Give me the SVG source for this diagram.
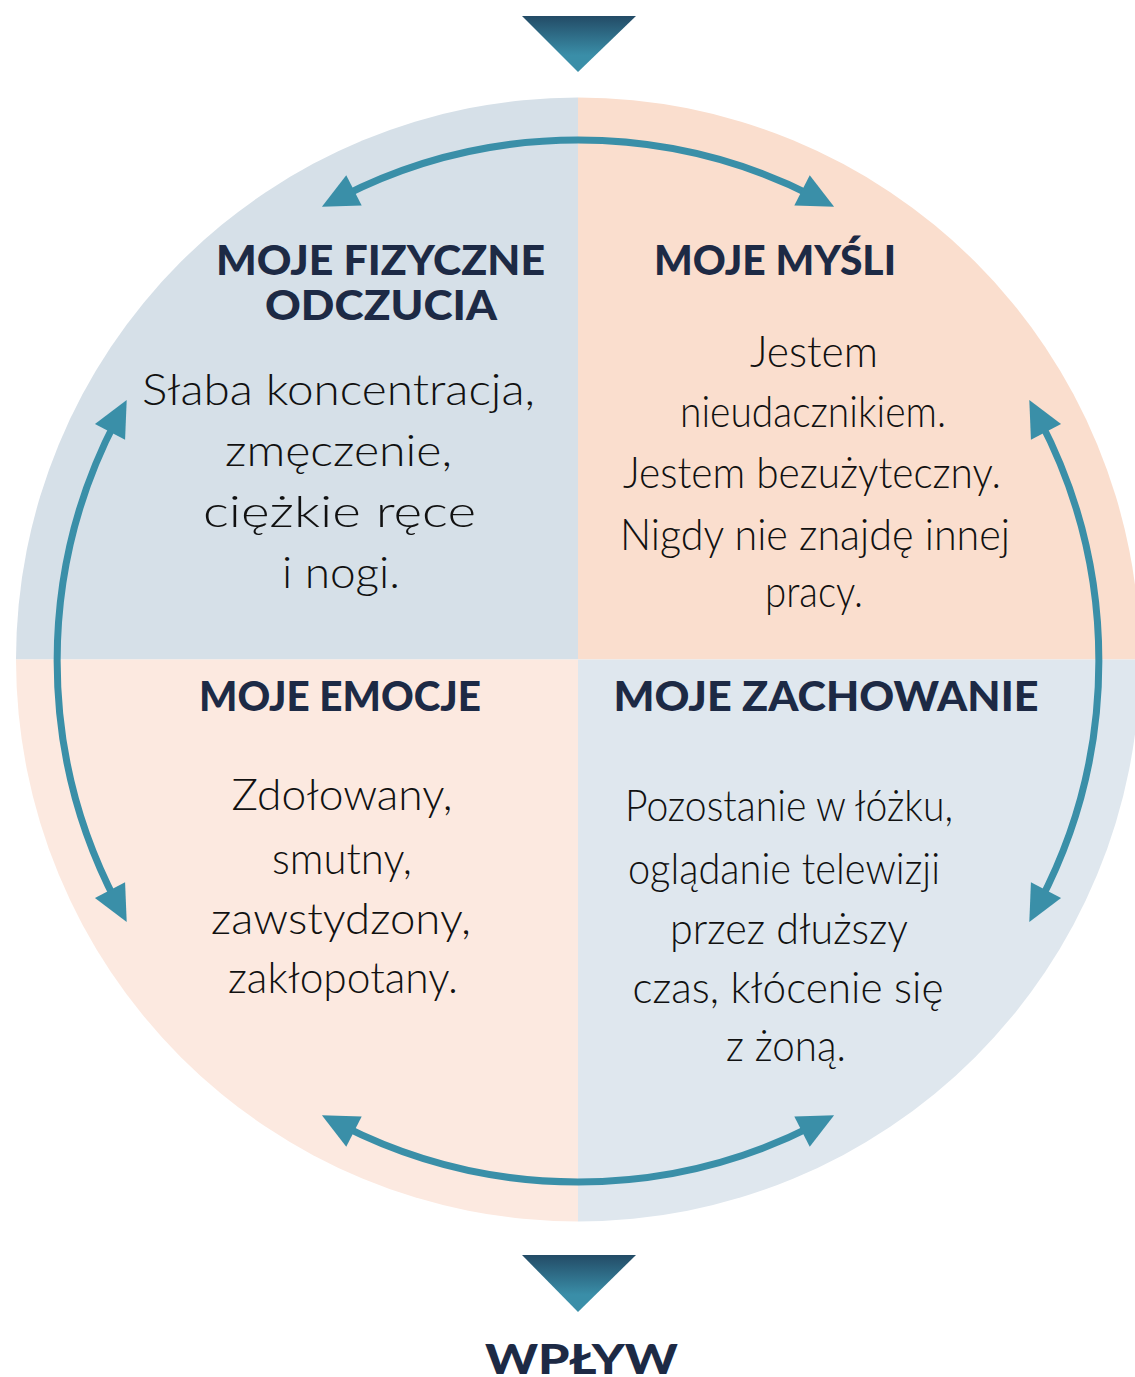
<svg xmlns="http://www.w3.org/2000/svg" width="1135" height="1377" viewBox="0 0 1135 1377">
<defs>
<linearGradient id="tri" x1="0" y1="0" x2="0" y2="1">
<stop offset="0" stop-color="#234b66"/>
<stop offset="0.7" stop-color="#3a8ea8"/>
<stop offset="1" stop-color="#3a8fa8"/>
</linearGradient>
<marker id="ah" markerUnits="userSpaceOnUse" markerWidth="46" markerHeight="42" viewBox="-4 -21 46 42" refX="14" refY="0" orient="auto-start-reverse">
<path d="M0,-17 L36,0 L0,17 Z" fill="#3a8fa8"/>
</marker>
<style>
.h{font-family:Lato,"Open Sans","Liberation Sans",sans-serif;font-weight:900;font-size:41px;fill:#1d2a45;text-anchor:middle}
.w{font-family:Lato,"Open Sans","Liberation Sans",sans-serif;font-weight:300;font-size:44px;fill:#111;text-anchor:middle}
.arc{fill:none;stroke:#3a8fa8;stroke-width:7;marker-start:url(#ah);marker-end:url(#ah)}
</style>
</defs>

<g id="background">
<path d="M578,659.5 L16,659.5 A562,562 0 0 1 578,97.5 Z" fill="#d6e0e8"/>
<path d="M578,659.5 L578,97.5 A562,562 0 0 1 1140,659.5 Z" fill="#fadece"/>
<path d="M578,659.5 L16,659.5 A562,562 0 0 0 578,1221.5 Z" fill="#fce9e0"/>
<path d="M578,659.5 L1140,659.5 A562,562 0 0 1 578,1221.5 Z" fill="#dfe7ee"/>
</g>

<g id="top-triangle"><polygon points="522,16 636,16 578,72" fill="url(#tri)"/></g>
<g id="bottom-triangle"><polygon points="522,1255 636,1255 578,1312" fill="url(#tri)"/></g>

<g id="connectors">
<path class="arc" d="M341.5,196.8 A521,521 0 0 1 814.5,196.8"/>
<path class="arc" d="M116.5,419.5 A521,521 0 0 0 116.5,902.5"/>
<path class="arc" d="M1039.5,419.5 A521,521 0 0 1 1039.5,902.5"/>
<path class="arc" d="M341.5,1125.2 A521,521 0 0 0 814.5,1125.2"/>
</g>

<g id="node-fizyczne">
<text class="h" x="380.5" y="275" textLength="329" lengthAdjust="spacingAndGlyphs">MOJE FIZYCZNE</text>
<text class="h" x="381" y="320" textLength="232" lengthAdjust="spacingAndGlyphs">ODCZUCIA</text>
<text class="w" x="338.5" y="405" textLength="393" lengthAdjust="spacingAndGlyphs">Słaba koncentracja,</text>
<text class="w" x="338.5" y="466" textLength="227" lengthAdjust="spacingAndGlyphs">zmęczenie,</text>
<text class="w" x="339.5" y="527" textLength="273" lengthAdjust="spacingAndGlyphs">ciężkie ręce</text>
<text class="w" x="341" y="588" textLength="118" lengthAdjust="spacingAndGlyphs">i nogi.</text>
</g>

<g id="node-mysli">
<text class="h" x="775" y="275" textLength="242" lengthAdjust="spacingAndGlyphs">MOJE MYŚLI</text>
<text class="w" x="814" y="367" textLength="128" lengthAdjust="spacingAndGlyphs">Jestem</text>
<text class="w" x="813" y="427" textLength="266" lengthAdjust="spacingAndGlyphs">nieudacznikiem.</text>
<text class="w" x="812" y="488" textLength="378" lengthAdjust="spacingAndGlyphs">Jestem bezużyteczny.</text>
<text class="w" x="815" y="550" textLength="390" lengthAdjust="spacingAndGlyphs">Nigdy nie znajdę innej</text>
<text class="w" x="814" y="607" textLength="98" lengthAdjust="spacingAndGlyphs">pracy.</text>
</g>

<g id="node-emocje">
<text class="h" x="340" y="711" textLength="282" lengthAdjust="spacingAndGlyphs">MOJE EMOCJE</text>
<text class="w" x="342" y="810" textLength="221" lengthAdjust="spacingAndGlyphs">Zdołowany,</text>
<text class="w" x="342" y="874" textLength="140" lengthAdjust="spacingAndGlyphs">smutny,</text>
<text class="w" x="341" y="934" textLength="260" lengthAdjust="spacingAndGlyphs">zawstydzony,</text>
<text class="w" x="343" y="993" textLength="230" lengthAdjust="spacingAndGlyphs">zakłopotany.</text>
</g>

<g id="node-zachowanie">
<text class="h" x="826" y="711" textLength="425" lengthAdjust="spacingAndGlyphs">MOJE ZACHOWANIE</text>
<text class="w" x="789" y="821" textLength="328" lengthAdjust="spacingAndGlyphs">Pozostanie w łóżku,</text>
<text class="w" x="784" y="884" textLength="312" lengthAdjust="spacingAndGlyphs">oglądanie telewizji</text>
<text class="w" x="789" y="944" textLength="238" lengthAdjust="spacingAndGlyphs">przez dłuższy</text>
<text class="w" x="788" y="1003" textLength="311" lengthAdjust="spacingAndGlyphs">czas, kłócenie się</text>
<text class="w" x="786" y="1061" textLength="120" lengthAdjust="spacingAndGlyphs">z żoną.</text>
</g>

<g id="node-wplyw">
<text class="h" x="581.5" y="1374" textLength="193" lengthAdjust="spacingAndGlyphs">WPŁYW</text>
</g>
</svg>
